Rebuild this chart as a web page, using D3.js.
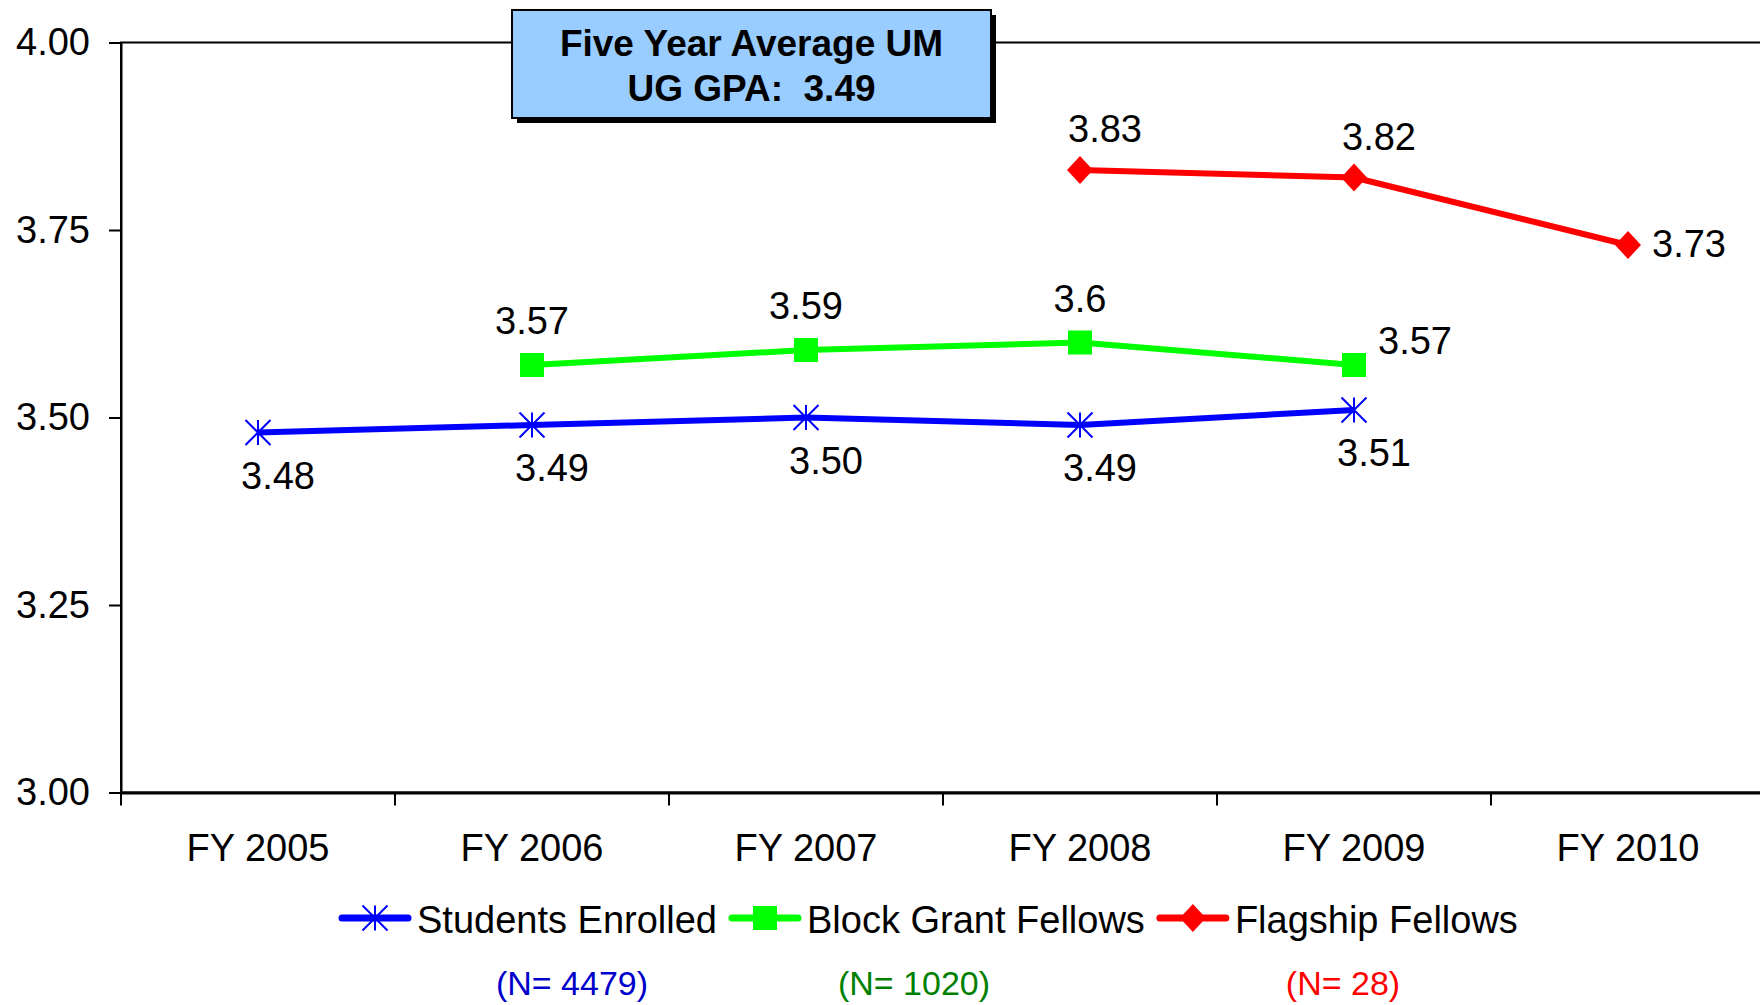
<!DOCTYPE html>
<html>
<head>
<meta charset="utf-8">
<script src="https://cdn.jsdelivr.net/npm/d3@7"></script>
<style>
  html, body { margin: 0; padding: 0; background: #fff; overflow: hidden; }
  svg { display: block; font-family: "Liberation Sans", Arial, sans-serif; }
</style>
</head>
<body>
<div id="chart"></div>
<script>
// categories along the x axis
const years = ["FY 2005", "FY 2006", "FY 2007", "FY 2008", "FY 2009", "FY 2010"];

// GPA per year, null where a series has no value
const studentsEnrolled = [3.48, 3.49, 3.50, 3.49, 3.51, null];
const blockGrantFellows = [null, 3.57, 3.59, 3.60, 3.57, null];
const flagshipFellows = [null, null, null, 3.83, 3.82, 3.73];

// data labels as printed on the chart
const studentsLabels = ["3.48", "3.49", "3.50", "3.49", "3.51", null];
const blockLabels = [null, "3.57", "3.59", "3.6", "3.57", null];
const flagshipLabels = [null, null, null, "3.83", "3.82", "3.73"];

const seriesNames = ["Students Enrolled", "Block Grant Fellows", "Flagship Fellows"];
const sampleSizes = [4479, 1020, 28];
const yTicks = [3.00, 3.25, 3.50, 3.75, 4.00];
const titleLines = ["Five Year Average UM", "UG GPA:  3.49"];

const width = 1760, height = 1005;
const margin = { top: 42.5, left: 121 };
const plotBottom = 792.5;
const fontSize = 38;

const svg = d3.select("#chart").append("svg")
    .attr("width", width)
    .attr("height", height);

const x = d3.scaleBand()
    .domain(years)
    .range([margin.left, margin.left + 274 * years.length]);

const y = d3.scaleLinear()
    .domain([3, 4])
    .range([plotBottom, margin.top]);

const xc = d => x(d) + x.bandwidth() / 2;

// plot area frame (right side runs off the picture)
svg.append("rect")
    .attr("x", x.range()[0])
    .attr("y", y(4))
    .attr("width", x.range()[1] - x.range()[0])
    .attr("height", y(3) - y(4))
    .attr("fill", "none")
    .attr("stroke", "#000")
    .attr("stroke-width", 2);

// y axis
const yAxis = svg.append("g")
    .attr("transform", `translate(${margin.left},0)`)
    .call(d3.axisLeft(y).tickValues(yTicks).tickFormat(d3.format(".2f")).tickSize(12).tickPadding(19));
yAxis.select(".domain").attr("stroke-width", 2);
yAxis.selectAll(".tick line").attr("stroke-width", 2);
yAxis.selectAll("text").attr("font-size", fontSize).attr("font-family", null).attr("fill", "#000");

// x axis: labels centred on categories, ticks on category boundaries
const xAxis = svg.append("g")
    .attr("transform", `translate(0,${plotBottom})`)
    .call(d3.axisBottom(x).tickSize(0).tickPadding(42));
xAxis.select(".domain").attr("stroke-width", 3);
xAxis.selectAll("text").attr("font-size", fontSize).attr("font-family", null).attr("fill", "#000");
xAxis.selectAll(".boundary")
    .data(years)
    .join("line")
    .attr("class", "boundary")
    .attr("x1", d => x(d)).attr("x2", d => x(d))
    .attr("y1", 0).attr("y2", 13)
    .attr("stroke", "#000")
    .attr("stroke-width", 2);

// marker shapes
const asterisk = "M0,-12.5V12.5M-12.5,-12.5L12.5,12.5M-12.5,12.5L12.5,-12.5";
const square = "M-12,-12H12V12H-12Z";
const diamond = "M0,-14L13,0L0,14L-13,0Z";

const series = [
    { name: seriesNames[0], values: studentsEnrolled, labels: studentsLabels, color: "#0000ff", nColor: "#0000cc",
      marker: asterisk, markerFill: "none", markerStroke: "#0000ff" },
    { name: seriesNames[1], values: blockGrantFellows, labels: blockLabels, color: "#00ff00", nColor: "#008000",
      marker: square, markerFill: "#00ff00", markerStroke: "none" },
    { name: seriesNames[2], values: flagshipFellows, labels: flagshipLabels, color: "#ff0000", nColor: "#ff0000",
      marker: diamond, markerFill: "#ff0000", markerStroke: "none" }
];
series.forEach((s, i) => s.n = sampleSizes[i]);

const line = d3.line()
    .defined(d => d.v != null)
    .x(d => xc(d.year))
    .y(d => y(d.v));

series.forEach(s => {
    const pts = years.map((yr, i) => ({ year: yr, v: s.values[i], label: s.labels[i] }));
    const present = pts.filter(p => p.v != null);

    svg.append("path")
        .datum(pts)
        .attr("d", line)
        .attr("fill", "none")
        .attr("stroke", s.color)
        .attr("stroke-width", 6)
        .attr("stroke-linejoin", "round");

    svg.append("g").selectAll("path")
        .data(present)
        .join("path")
        .attr("transform", d => `translate(${xc(d.year)},${y(d.v)})`)
        .attr("d", s.marker)
        .attr("fill", s.markerFill)
        .attr("stroke", s.markerStroke)
        .attr("stroke-width", 2);

    // label placement: blue below, others above, last green/red point to the right
    const last = present[present.length - 1];
    svg.append("g").selectAll("text")
        .data(present)
        .join("text")
        .attr("font-size", fontSize)
        .attr("fill", "#000")
        .each(function (d) {
            const t = d3.select(this);
            let dx, dy, anchor = "middle";
            if (s.marker === asterisk) { dx = 20; dy = 56; }
            else if (d === last) { dx = 24; dy = s.marker === diamond ? 12 : -11; anchor = "start"; }
            else { dx = s.marker === diamond ? 25 : 0; dy = s.marker === diamond ? -28 : -31; }
            t.attr("x", xc(d.year) + dx)
             .attr("y", y(d.v) + dy)
             .attr("text-anchor", anchor)
             .text(d.label);
        });
});

// title box with drop shadow
const box = { x: 512, y: 10, w: 479, h: 108 };
svg.append("rect")
    .attr("x", box.x + 5).attr("y", box.y + 5)
    .attr("width", box.w).attr("height", box.h)
    .attr("fill", "#000");
svg.append("rect")
    .attr("x", box.x).attr("y", box.y)
    .attr("width", box.w).attr("height", box.h)
    .attr("fill", "#99ccff")
    .attr("stroke", "#000")
    .attr("stroke-width", 2);
svg.append("g").selectAll("text")
    .data(titleLines)
    .join("text")
    .attr("x", box.x + box.w / 2)
    .attr("y", (d, i) => 56 + i * 45)
    .attr("text-anchor", "middle")
    .attr("font-size", 37)
    .attr("font-weight", "bold")
    .attr("fill", "#000")
    .style("white-space", "pre")
    .text(d => d);

// legend
const legend = svg.append("g").attr("transform", "translate(342,918)");
let lx = 0;
series.forEach(s => {
    const g = legend.append("g").attr("transform", `translate(${lx},0)`);
    g.append("line")
        .attr("x1", 0).attr("x2", 66)
        .attr("stroke", s.color)
        .attr("stroke-width", 7)
        .attr("stroke-linecap", "round");
    g.append("path")
        .attr("transform", "translate(33,0)")
        .attr("d", s.marker)
        .attr("fill", s.markerFill)
        .attr("stroke", s.markerStroke)
        .attr("stroke-width", 2);
    const t = g.append("text")
        .attr("x", 75)
        .attr("y", 15)
        .attr("font-size", fontSize)
        .attr("fill", "#000")
        .text(s.name);
    lx += 75 + t.node().getComputedTextLength() + 15;
});

// sample sizes under the legend
const nX = [572, 914, 1343];
svg.append("g").selectAll("text")
    .data(series)
    .join("text")
    .attr("x", (d, i) => nX[i])
    .attr("y", 995)
    .attr("text-anchor", "middle")
    .attr("font-size", 34)
    .attr("fill", d => d.nColor)
    .text(d => `(N= ${d.n})`);
</script>
</body>
</html>
